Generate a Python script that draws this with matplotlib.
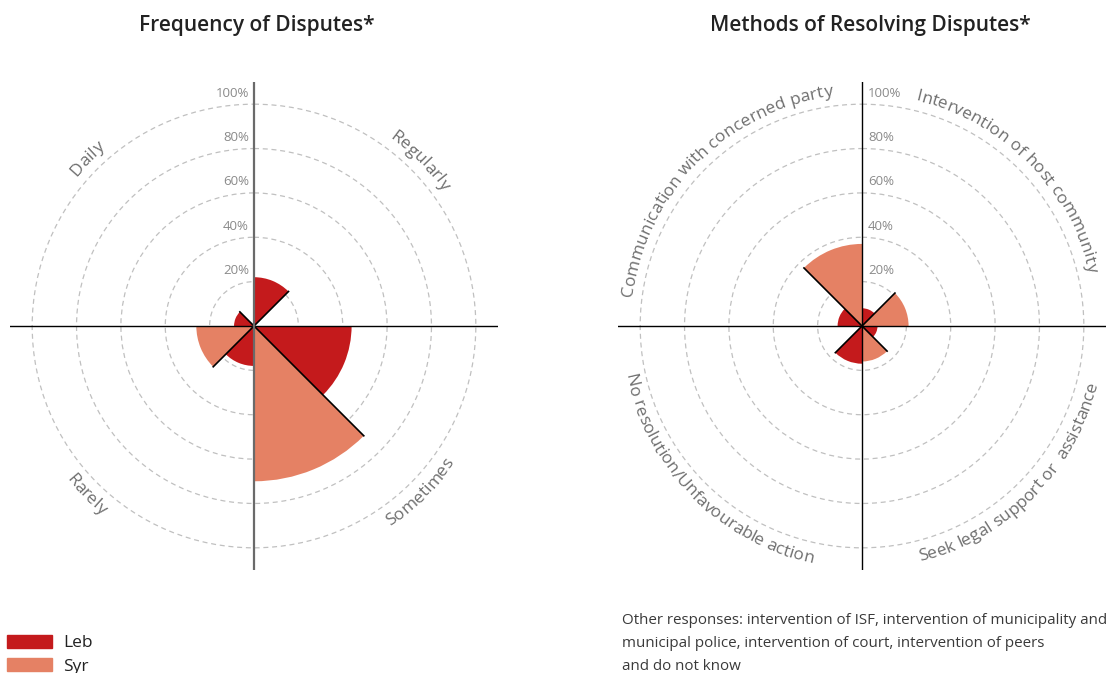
import numpy as np
import matplotlib
matplotlib.use('Agg')
import matplotlib.pyplot as plt
from matplotlib.font_manager import FontProperties, findfont
from matplotlib.ft2font import FT2Font, LoadFlags
from matplotlib.transforms import IdentityTransform
from matplotlib.patches import Patch

# quadrants clockwise from the top: upper-right, lower-right, lower-left, upper-left
freq_labels = ['Regularly', 'Sometimes', 'Rarely', 'Daily']
freq_leb = [22, 44, 18, 9]
freq_syr = [0, 70, 26, 0]

meth_labels = ['Intervention of host community',
               'Seek legal support or  assistance',
               'No resolution/Unfavourable action',
               'Communication with concerned party']
meth_leb = [8, 7, 17, 11]
meth_syr = [21, 16, 0, 37]

rticks = [20, 40, 60, 80, 100]

LEB = '#c41a1c'
SYR = '#e58164'
FONT = 'Open Sans'

W, H = 1110, 673
fig = plt.figure(figsize=(W / 100, H / 100), dpi=100)
plt.rcParams['font.family'] = [FONT, 'DejaVu Sans']


def make_axes(cx, cy, rpx=244):
    return fig.add_axes([(cx - rpx) / W, (H - cy - rpx) / H, 2 * rpx / W, 2 * rpx / H],
                        projection='polar')


def draw_rose(ax, leb, syr, vcolor, vlw, label_side):
    ax.set_theta_zero_location('N')
    ax.set_theta_direction(-1)
    ax.set_ylim(0, 110)
    ax.set_yticks(rticks)
    ax.set_yticklabels([])
    ax.set_xticks([])
    ax.xaxis.grid(False)
    ax.yaxis.grid(True, color='#c0c0c0', linestyle=(0, (4, 3)), linewidth=0.9)
    ax.spines['polar'].set_visible(False)
    ax.patch.set_alpha(0)

    q = np.arange(4) * np.pi / 2
    ax.bar(q + np.pi / 8, leb, width=np.pi / 4, color=LEB, linewidth=0, zorder=2)
    ax.bar(q + 3 * np.pi / 8, syr, width=np.pi / 4, color=SYR, linewidth=0, zorder=2)

    # black edge along each diagonal
    for d, r in zip(q + np.pi / 4, np.maximum(leb, syr)):
        ax.plot([d, d], [0, r], color='black', lw=1.2, zorder=3)

    # cross through the centre
    for t in (np.pi / 2, 3 * np.pi / 2):
        ax.plot([t, t], [0, 110], color='black', lw=1.0, zorder=4)
    for t in (0, np.pi):
        ax.plot([t, t], [0, 110], color=vcolor, lw=vlw, zorder=4)

    for v in rticks:
        if label_side == 'left':
            ax.annotate(f'{v}%', xy=(0, v), xytext=(-5, 11), textcoords='offset pixels',
                        ha='right', va='center', fontsize=9.5, color='#8a8a8a')
        else:
            ax.annotate(f'{v}%', xy=(0, v), xytext=(6, 11), textcoords='offset pixels',
                        ha='left', va='center', fontsize=9.5, color='#8a8a8a')


def curved_label(ax, text, center_deg, bottom, size=12.5, r_center=237):
    fp = FontProperties(family=FONT, size=size)
    font = FT2Font(findfont(fp))
    font.set_size(size, 100)
    adv = [font.load_char(ord(ch), flags=LoadFlags.NO_HINTING).linearHoriAdvance / 65536
           for ch in text]
    total = sum(adv)
    starts = np.cumsum([0] + adv[:-1])

    cx, cy = ax.transData.transform((0, 0))
    px = size * 100 / 72
    rb = r_center + 0.3 * px if bottom else r_center - 0.3 * px
    phi0 = np.deg2rad(center_deg)
    for ch, s0, w in zip(text, starts, adv):
        if ch == ' ':
            continue
        dphi = (s0 + w / 2 - total / 2) / rb
        phi = phi0 - dphi if bottom else phi0 + dphi
        a = np.pi / 2 - phi
        rot = np.rad2deg(a) + (90 if bottom else -90)
        fig.text(cx + rb * np.cos(a), cy + rb * np.sin(a), ch,
                 transform=IdentityTransform(), rotation=rot, rotation_mode='anchor',
                 ha='center', va='baseline', fontproperties=fp, color='#6f6f6f')


ax1 = make_axes(254, 326)
ax2 = make_axes(862, 326)
draw_rose(ax1, freq_leb, freq_syr, '#6a6a6a', 1.6, 'left')
draw_rose(ax2, meth_leb, meth_syr, 'black', 1.0, 'right')

for ax, labels in ((ax1, freq_labels), (ax2, meth_labels)):
    for k, lab in enumerate(labels):
        curved_label(ax, lab, 45 + 90 * k, bottom=(k in (1, 2)))

fig.text(257 / W, 1 - 25 / H, 'Frequency of Disputes*', ha='center', va='center',
         fontsize=15, fontweight='semibold', color='#222222')
fig.text(870 / W, 1 - 25 / H, 'Methods of Resolving Disputes*', ha='center', va='center',
         fontsize=15, fontweight='semibold', color='#222222')

fig.legend(handles=[Patch(color=LEB, label='Leb'), Patch(color=SYR, label='Syr')],
           loc='upper left', bbox_to_anchor=(7 / W, 1 - 634.5 / H), frameon=False,
           fontsize=12.5, handlelength=2.6, handleheight=0.8, handletextpad=0.65,
           labelspacing=0.4, borderpad=0, borderaxespad=0, labelcolor='#222222')

fig.text(622 / W, 1 - 613 / H,
         'Other responses: intervention of ISF, intervention of municipality and\n'
         'municipal police, intervention of court, intervention of peers\n'
         'and do not know',
         ha='left', va='top', fontsize=10.9, color='#3a3a3a', linespacing=1.75)

fig.savefig('out.png', dpi=100)
